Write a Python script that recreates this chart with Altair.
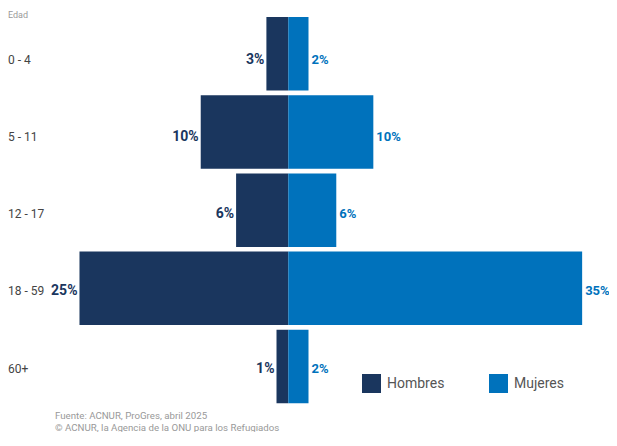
import altair as alt
import pandas as pd

# ---- data ----
edades = ["0 - 4", "5 - 11", "12 - 17", "18 - 59", "60+"]
hombres = [2.6, 10.4, 6.2, 24.8, 1.4]
mujeres = [2.4, 10.1, 5.7, 34.9, 2.4]
sexos = ["Hombres", "Mujeres"]
colores = ["#1A365E", "#0072BC"]
fuente = ["Fuente: ACNUR, ProGres, abril 2025",
          "© ACNUR, la Agencia de la ONU para los Refugiados"]
fuente_linea = [0, 1]

rows = []
for e, h, m in zip(edades, hombres, mujeres):
    rows.append({"edad": e, "sexo": "Hombres", "valor": h})
    rows.append({"edad": e, "sexo": "Mujeres", "valor": m})
df = pd.DataFrame(rows)

FONT = "Roboto"

base = alt.Chart(df).transform_calculate(
    signed="datum.sexo === 'Hombres' ? -datum.valor : datum.valor",
    etiqueta="format(datum.valor, '.0f') + '%'",
)

yscale = alt.Scale(domain=edades, range=[9, 395.3], paddingInner=0.06, paddingOuter=0)
y = alt.Y("edad:N", sort=edades, scale=yscale, axis=None)
xscale = alt.Scale(domain=[-33.29, 38.09], nice=False, zero=False)

bars = base.mark_bar().encode(
    x=alt.X("signed:Q", scale=xscale, axis=None),
    y=y,
    color=alt.Color(
        "sexo:N",
        scale=alt.Scale(domain=sexos, range=colores),
        legend=alt.Legend(
            title=None, orient="none", legendX=354, legendY=366,
            direction="horizontal", symbolType="square", symbolSize=361,
            symbolStrokeWidth=0, symbolOpacity=1, labelFontSize=14, labelFont=FONT,
            labelColor="#555555", columnPadding=44, labelOffset=6, padding=0,
        ),
    ),
)

lab_h = base.transform_filter("datum.sexo === 'Hombres'").mark_text(
    align="right", baseline="middle", dx=-2, dy=4, font=FONT, fontWeight="bold",
    fontSize=14, color=colores[0],
).encode(x=alt.X("signed:Q", scale=xscale), y=y, text="etiqueta:N")

lab_m = base.transform_filter("datum.sexo === 'Mujeres'").mark_text(
    align="left", baseline="middle", dx=3, dy=4, font=FONT, fontWeight="bold",
    fontSize=13, color=colores[1],
).encode(x=alt.X("signed:Q", scale=xscale), y=y, text="etiqueta:N")

age_df = pd.DataFrame({"edad": edades})
age_labels = alt.Chart(age_df).mark_text(
    align="left", baseline="middle", dy=4, font=FONT, fontSize=12, color="#444444",
).encode(x=alt.value(0), y=y, text="edad:N")

edad_title = alt.Chart(pd.DataFrame({"t": ["Edad"]})).mark_text(
    align="left", baseline="middle", font=FONT, fontSize=9, color="#9a9a9a",
).encode(x=alt.value(0), y=alt.value(7), text="t:N")

foot_df = pd.DataFrame({"t": fuente, "i": fuente_linea})
footer = alt.Chart(foot_df).mark_text(
    align="left", baseline="middle", font=FONT, fontSize=9.7, color="#999999",
).encode(
    x=alt.value(47),
    y=alt.Y("i:Q", scale=alt.Scale(domain=[0, 1], range=[408, 420], nice=False, zero=False), axis=None),
    text="t:N",
)

chart = alt.layer(bars, lab_h, lab_m, age_labels, edad_title, footer).resolve_scale(
    y="independent"
).properties(
    width=601, height=424, padding=0, background="white",
    autosize=alt.AutoSizeParams(type="none"),
).configure_view(stroke=None)

chart.save("out.html", embed_options={"renderer": "svg", "actions": False})
